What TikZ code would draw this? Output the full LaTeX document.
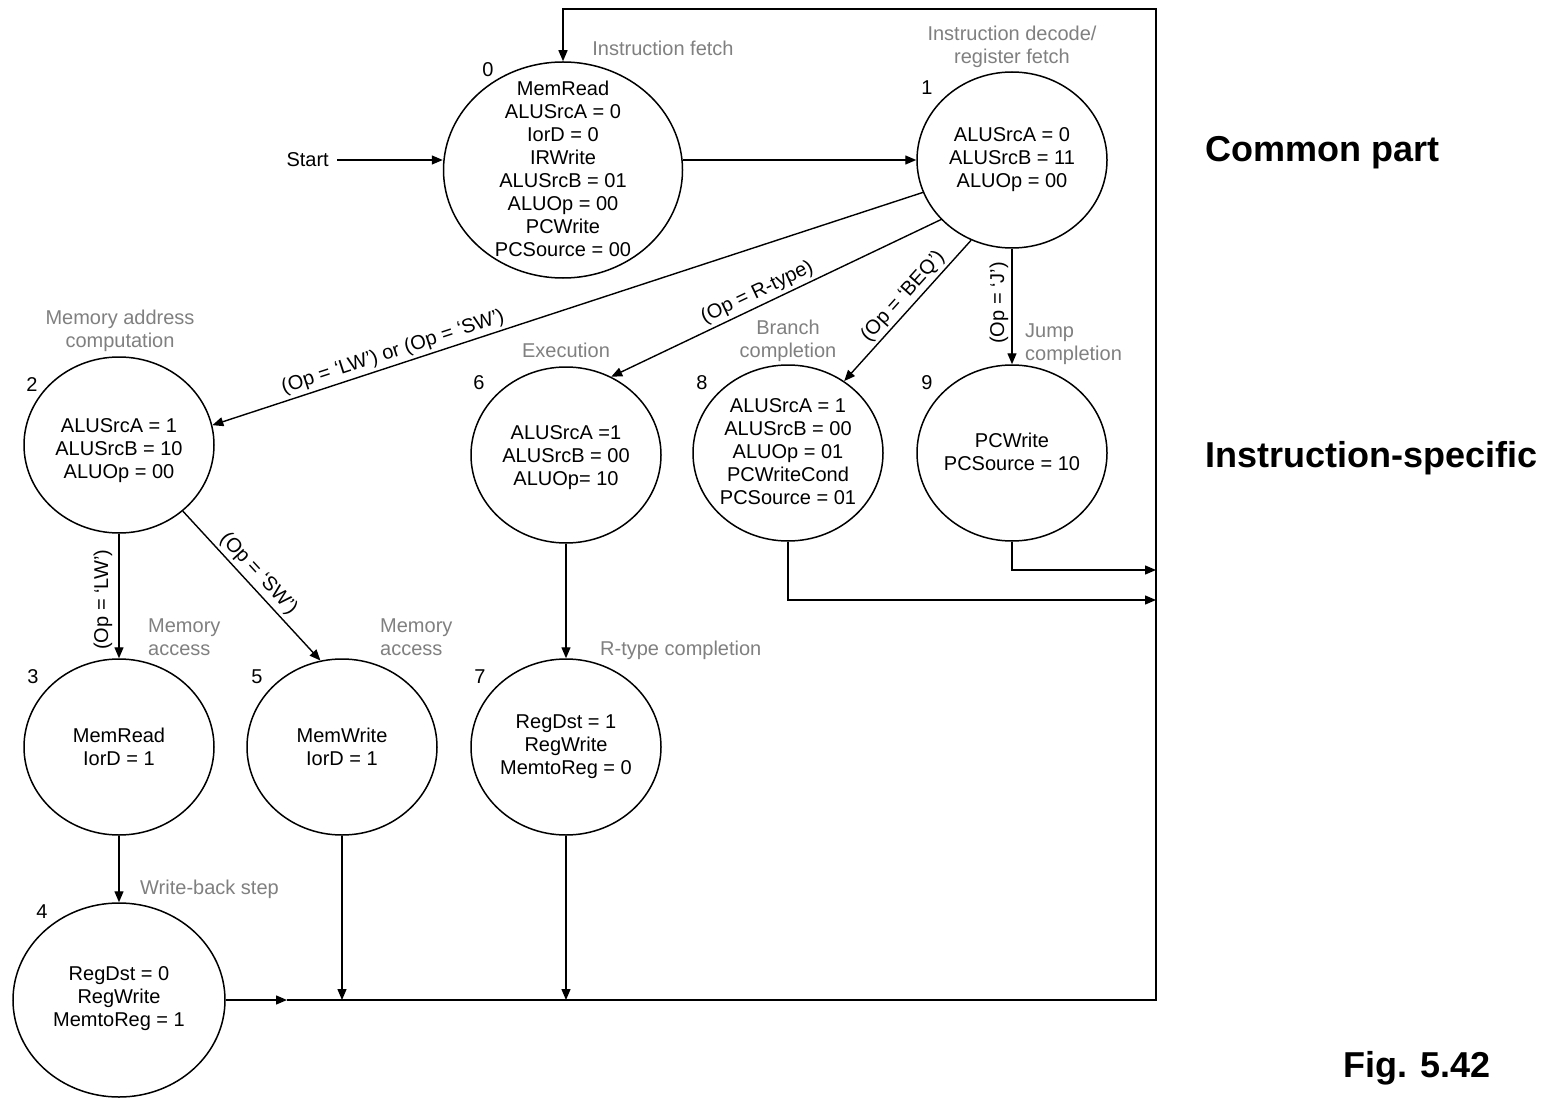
\documentclass[tikz,border=0pt]{standalone}
\usepackage{fontspec}
\setmainfont{Liberation Sans}
\usetikzlibrary{shapes.geometric,arrows.meta}

\definecolor{notegray}{RGB}{128,128,128}

\begin{document}
\begin{tikzpicture}[x=1pt,y=-1pt,
  statebox/.style={ellipse, draw=black, line width=1.5pt, inner sep=0pt,
                   minimum width=190pt, minimum height=176pt},
  body/.style={align=center, inner sep=0pt, font=\fontsize{20}{23}\selectfont},
  num/.style={inner sep=0pt, font=\fontsize{20}{23}\selectfont},
  note/.style={text=notegray, inner sep=0pt, font=\fontsize{20}{23}\selectfont},
  cond/.style={inner sep=3pt, font=\fontsize{20}{23}\selectfont},
  wire/.style={line width=1.4pt},
  flow/.style={wire, -{Triangle[length=11pt,width=9pt]}},
  heading/.style={inner sep=0pt, font=\fontsize{36}{40}\selectfont\bfseries}]

\fill[white] (0,0) rectangle (1557,1099);
\useasboundingbox (0,0) rectangle (1557,1099);

% ---- states ----
\node[statebox, minimum width=239pt, minimum height=216pt] (s0) at (563,170) {};
\node[statebox] (s1) at (1012,160) {};
\node[statebox] (s2) at (119,445) {};
\node[statebox] (s6) at (566,455) {};
\node[statebox] (s8) at (788,453) {};
\node[statebox] (s9) at (1012,453) {};
\node[statebox] (s3) at (119,747) {};
\node[statebox] (s5) at (342,747) {};
\node[statebox] (s7) at (566,747) {};
\node[statebox, minimum width=212pt, minimum height=194pt] (s4) at (119,1000) {};

% ---- state contents ----
\node[body] (t0) at ([yshift=1.5pt]s0) {MemRead\\ALUSrcA = 0\\IorD = 0\\IRWrite\\ALUSrcB = 01\\ALUOp = 00\\PCWrite\\PCSource = 00};
\node[body] (t1) at (s1) {ALUSrcA = 0\\ALUSrcB = 11\\ALUOp = 00};
\node[body] (t2) at ([yshift=-6pt]s2) {ALUSrcA = 1\\ALUSrcB = 10\\ALUOp = 00};
\node[body] (t6) at ([yshift=-3pt]s6) {ALUSrcA =1\\ALUSrcB = 00\\ALUOp= 10};
\node[body] (t8) at ([yshift=1pt]s8) {ALUSrcA = 1\\ALUSrcB = 00\\ALUOp = 01\\PCWriteCond\\PCSource = 01};
\node[body] (t9) at ([yshift=1.5pt]s9) {PCWrite\\PCSource = 10};
\node[body] (t3) at (s3) {MemRead\\IorD = 1};
\node[body] (t5) at (s5) {MemWrite\\IorD = 1};
\node[body] (t7) at (s7) {RegDst = 1\\RegWrite\\MemtoReg = 0};
\node[body] (t4) at ([yshift=1.5pt]s4) {RegDst = 0\\RegWrite\\MemtoReg = 1};

% ---- state numbers ----
\node[num] (n0) at (488,70) {0};
\node[num] (n1) at (927,88) {1};
\node[num] (n2) at (32,385) {2};
\node[num] (n6) at (479,383) {6};
\node[num] (n8) at (702,383) {8};
\node[num] (n9) at (927,383) {9};
\node[num] (n3) at (33,677) {3};
\node[num] (n5) at (257,677) {5};
\node[num] (n7) at (480,677) {7};
\node[num] (n4) at (42,912) {4};

% ---- step names ----
\node[note] (l0) at (663,48) {Instruction fetch};
\node[note, align=center] (l1) at (1012,46.5) {Instruction decode/\\register fetch};
\node[note, align=center] (l2) at (120,331) {Memory address\\computation};
\node[note] (l6) at (566,350) {Execution};
\node[note, align=center] (l8) at (788,341) {Branch\\completion};
\node[note, align=left, anchor=west] (l9) at (1025,344) {Jump\\completion};
\node[note, align=left, anchor=west] (l3) at (148,637) {Memory\\access};
\node[note, align=left, anchor=west] (l5) at (380,637) {Memory\\access};
\node[note, anchor=west] (l7) at (600,650) {R-type completion};
\node[note, anchor=west] (l4) at (140,889) {Write-back step};

% ---- start ----
\node[body, anchor=east] (start) at (329,160) {Start};
\draw[flow] ([xshift=8pt]start.east) -- (s0.west |- start.east);

% ---- transitions ----
\draw[flow] (s0.east |- s1.west) -- (s1.west);
\draw[flow] (s1.200) -- node[cond, sloped, above, pos=0.74] {(Op = `LW') or (Op = `SW')} (s2.12);
\draw[flow] (s1.220) -- node[cond, sloped, above, pos=0.54] {(Op = R-type)} (s6.60);
\draw[flow] (s1.243) -- node[cond, sloped, above, pos=0.46] {(Op = `BEQ')} (s8.52);
\draw[flow] (s1.south) -- node[cond, rotate=90, anchor=south, pos=0.47] {(Op = `J')} (s9.north);
\draw[flow] (s2.south) -- node[cond, rotate=90, anchor=south, pos=0.53, inner sep=6pt] {(Op = `LW')} (s3.north);
\draw[flow] (s2.314) -- node[cond, sloped, above, pos=0.48] {(Op = `SW')} (s5.104);
\draw[flow] (s6.south) -- (s7.north);
\draw[flow] (s3.south) -- (s4.north);

% ---- return paths to instruction fetch ----
\coordinate (m4) at (287,1000);
\coordinate (br) at (1156,1000);
\coordinate (tr) at (1156,9);
\coordinate (j9) at (1156,570);
\coordinate (j8) at (1156,600);
\draw[flow] (s4.east) -- (m4);
\draw[flow] (m4) -- (br) -- (tr) -- (s0.north |- tr) -- (s0.north);
\draw[flow] (s5.south) -- (s5.south |- br);
\draw[flow] (s7.south) -- (s7.south |- br);
\draw[flow] (s9.south) |- (j9);
\draw[flow] (s8.south) |- (j8);

% ---- side headings ----
\node[heading, anchor=base west] (hc) at (1205,162) {Common part};
\node[heading, anchor=base west] (hi) at (1205,467) {Instruction-specific};
\node[heading, anchor=base west] (hf) at (1343,1077) {Fig. 5.42};
\end{tikzpicture}
\end{document}
